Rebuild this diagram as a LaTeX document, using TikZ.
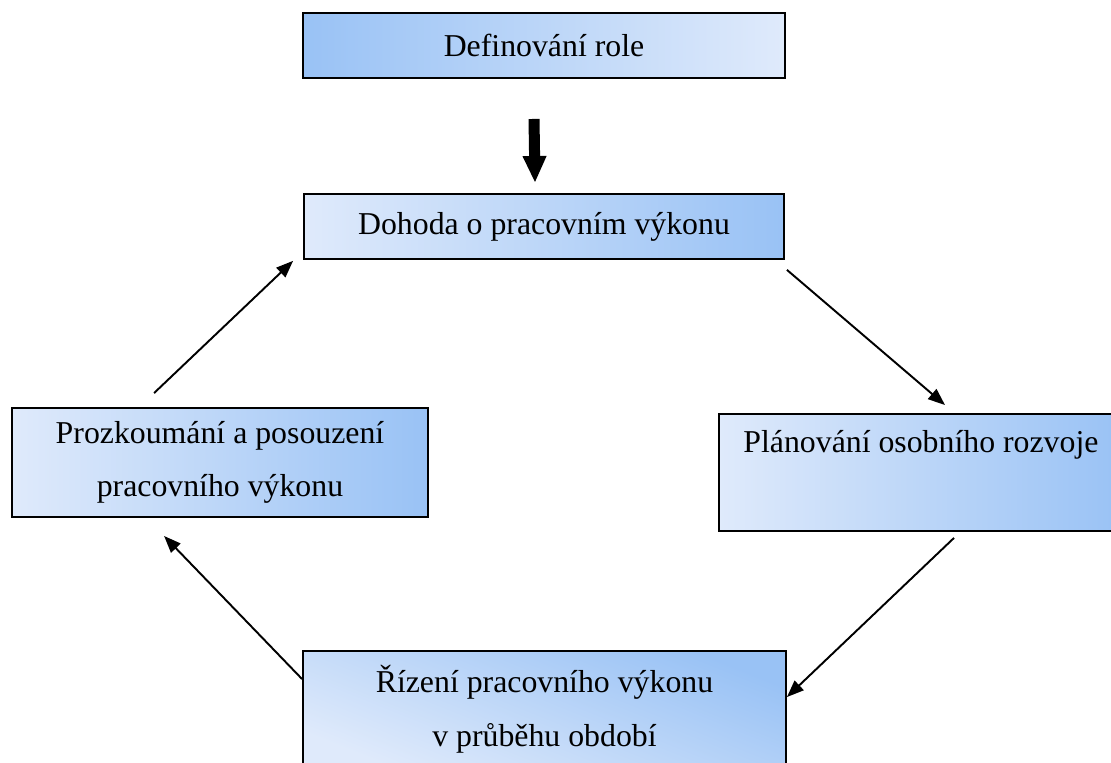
\documentclass[tikz,border=0pt]{standalone}
\usepackage{fontspec}
\setmainfont{Liberation Serif}
\usepackage{tikz}
\usetikzlibrary{arrows.meta, positioning, calc}
\definecolor{cycdark}{RGB}{153,194,245}
\definecolor{cyclight}{RGB}{223,234,251}

\begin{document}
\begin{tikzpicture}[
    x=0.02cm, y=-0.02cm,
    node distance=2.28cm and 1cm,
    box/.style={draw, line width=1.1pt, align=center, inner sep=0pt,
                font=\fontsize{18.1}{30.5}\selectfont},
    darkleft/.style={box, left color=cycdark, right color=cyclight},
    darkright/.style={box, left color=cyclight, right color=cycdark},
    darkcorner/.style={box, top color=cycdark, bottom color=cyclight,
                       shading angle=-22},
    arr/.style={-{Triangle[length=0.34cm, width=0.26cm]}, line width=1.1pt},
    bigarr/.style={-{Triangle[length=0.54cm, width=0.44cm]}, line width=0.22cm},
]
\useasboundingbox (0,0) rectangle (1111,762);
\clip (0,0) rectangle (1111,762);

\node[darkleft, minimum width=9.64cm, minimum height=1.3cm] (role) at (544,45.5) {Definování role};
\node[darkright, minimum width=9.6cm, minimum height=1.3cm, below=of role] (dohoda) {Dohoda o pracovním výkonu};
\node[darkright, minimum width=8.32cm, minimum height=2.18cm] (prozk) at (220,462.5)
    {Prozkoumání a posouzení\\pracovního výkonu};
\node[darkright, minimum width=8.08cm, text height=0.78cm, text depth=1.56cm,
      anchor=north west] (plan) at (718,413) {Plánování osobního rozvoje};
\node[darkcorner, minimum width=9.66cm, minimum height=2.34cm] (ridzeni) at (544.5,709.5)
    {Řízení pracovního výkonu\\v průběhu období};

\draw[bigarr] ($(role.south)+(-10,40)$) -- ($(dohoda.north)+(-9,-10)$);
\draw[arr] ($(prozk.north west)+(143,-14)$) -- ($(dohoda.south west)+(-10,1)$);
\draw[arr] ($(dohoda.south east)+(2,10)$) -- ($(plan.north west)+(227,-8)$);
\draw[arr] ($(plan.south west)+(236,6)$) -- ($(ridzeni.north east)+(0,47)$);
\draw[arr] ($(ridzeni.north west)+(0,29)$) -- ($(prozk.south west)+(153,18)$);

\end{tikzpicture}
\end{document}
